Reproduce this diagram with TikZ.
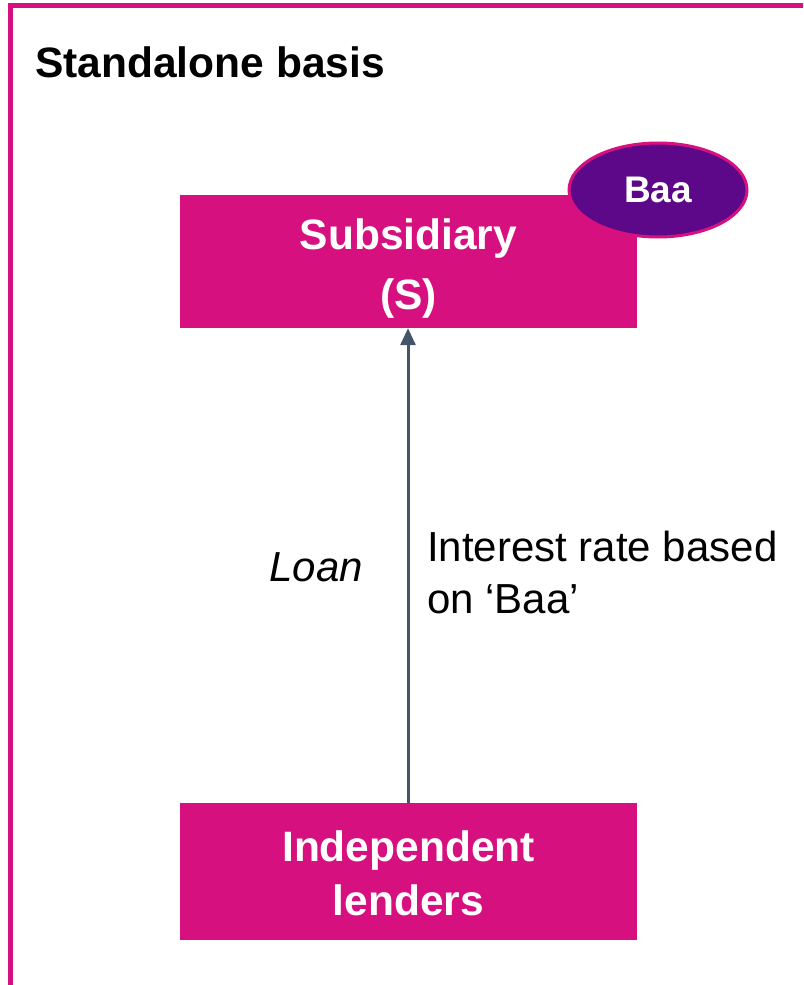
\documentclass[tikz,border=0pt]{standalone}
\usepackage{fontspec}
\setmainfont{Liberation Sans}
\usetikzlibrary{arrows.meta,shapes.geometric}
\definecolor{brandpink}{RGB}{214,16,127}
\definecolor{brandpurple}{RGB}{92,8,136}
\definecolor{slate}{RGB}{68,84,106}
\tikzset{
  entity/.style={rectangle, fill=brandpink, draw=none, minimum width=457pt, inner sep=0pt},
  entitytext/.style={text=white, font=\fontsize{42.5}{#1}\selectfont\bfseries,
    align=center, inner sep=0pt},
  rating/.style={ellipse, fill=brandpurple, draw=brandpink, line width=3pt,
    minimum width=178pt, minimum height=94pt, inner sep=0pt,
    text=white, font=\fontsize{37}{44}\selectfont\bfseries},
  flow/.style={draw=slate, line width=3pt, -{Triangle[width=15pt,length=17pt]}},
  caption/.style={font=\fontsize{42}{52}\selectfont, inner sep=0pt}
}
\begin{document}
\begin{tikzpicture}[x=1pt, y=-1pt]
  \useasboundingbox (0,0) rectangle (803,985);
  \fill[white] (0,0) rectangle (803,985);
  \begin{scope}
    \clip (0,0) rectangle (803,985);
    % outer frame, running past the right and lower edges
    \draw[brandpink, line width=5pt] (10.5,5.5) rectangle (830,1010);
  \end{scope}

  \node[anchor=base west, inner sep=0pt, font=\fontsize{42.5}{50}\selectfont\bfseries]
    (title) at (35,77) {Standalone basis};

  % subsidiary box with its rating badge
  \node[entity, minimum height=133pt] (sub) at (408.5,261.5) {};
  \node[entitytext=60] (subtext) at ([yshift=-7pt]sub.center) {Subsidiary\\(S)};
  \node[rating] (baa) at (658,190) {Baa};

  % lenders box
  \node[entity, minimum height=137pt] (lend) at (408.5,871.5) {};
  \node[entitytext=54] (lendtext) at ([yshift=-2pt]lend.center) {Independent\\lenders};

  % loan flow
  \draw[flow] (lend.north -| 408,0) -- (sub.south -| 408,0);

  \node[caption, anchor=base east, font=\fontsize{42}{52}\selectfont\itshape]
    (loan) at (363,581) {Loan};
  \node[caption, anchor=base west, align=left] (rate) at (427,613)
    {Interest rate based\\on ‘Baa’};
\end{tikzpicture}
\end{document}
